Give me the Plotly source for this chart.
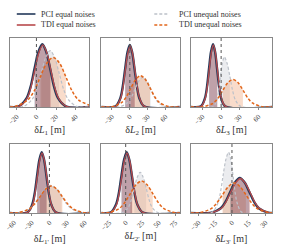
import plotly.graph_objects as go
from plotly.subplots import make_subplots

# ---------------- data ----------------
series_names = ["PCI equal noises", "TDI equal noises", "PCI unequal noises", "TDI unequal noises"]
axis_titles = ["δ<i>L</i><sub>1</sub> [m]", "δ<i>L</i><sub>2</sub> [m]", "δ<i>L</i><sub>3</sub> [m]",
               "δ<i>L</i><sub>1'</sub> [m]", "δ<i>L</i><sub>2'</sub> [m]", "δ<i>L</i><sub>3'</sub> [m]"]
x_ranges = [[-27, 54], [-48, 84], [-49, 82], [-67, 68], [-37, 82], [-37, 36]]
tick_vals = [[-20, 0, 20, 40], [-30, 0, 30, 60], [-30, 0, 30, 60],
             [-60, -30, 0, 30, 60], [-25, 0, 25, 50, 75], [-30, -15, 0, 15, 30]]

# delta L1
L1_pci_eq_x = [-18, -10, -6, -2, 2, 6, 10, 14, 18, 22, 30]
L1_pci_eq_y = [0.01, 0.14, 0.32, 0.61, 0.88, 1.0, 0.88, 0.61, 0.32, 0.14, 0.01]
L1_tdi_eq_x = [-17.5, -9.5, -5.5, -1.5, 2.5, 6.5, 10.5, 14.5, 18.5, 22.5, 30.5]
L1_tdi_eq_y = [0.01, 0.14, 0.32, 0.6, 0.87, 0.99, 0.87, 0.6, 0.32, 0.14, 0.01]
L1_pci_un_x = [-13, -4, 0.5, 5, 9.5, 14, 18.5, 23, 27.5, 32, 41]
L1_pci_un_y = [0.01, 0.13, 0.29, 0.55, 0.79, 0.9, 0.79, 0.55, 0.29, 0.13, 0.01]
L1_tdi_un_x = [-22, -9, -2.5, 4, 10.5, 17, 23.5, 30, 36.5, 43, 56]
L1_tdi_un_y = [0.01, 0.11, 0.25, 0.48, 0.7, 0.79, 0.7, 0.48, 0.25, 0.11, 0.01]

# delta L2
L2_pci_eq_x = [-24, -16, -12, -8, -4, 0, 4, 8, 12, 16, 24]
L2_pci_eq_y = [0.01, 0.14, 0.32, 0.6, 0.87, 0.99, 0.87, 0.6, 0.32, 0.14, 0.01]
L2_tdi_eq_x = [-23.5, -15.5, -11.5, -7.5, -3.5, 0.5, 4.5, 8.5, 12.5, 16.5, 24.5]
L2_tdi_eq_y = [0.01, 0.14, 0.31, 0.6, 0.86, 0.98, 0.86, 0.6, 0.31, 0.14, 0.01]
L2_pci_un_x = [-17, -4, 2.5, 9, 15.5, 22, 28.5, 35, 41.5, 48, 61]
L2_pci_un_y = [0.005, 0.067, 0.155, 0.29, 0.42, 0.48, 0.42, 0.29, 0.155, 0.067, 0.005]
L2_tdi_un_x = [-30, -14, -6, 2, 10, 18, 26, 34, 42, 50, 66]
L2_tdi_un_y = [0.005, 0.07, 0.16, 0.305, 0.44, 0.5, 0.44, 0.305, 0.16, 0.07, 0.005]

# delta L3
L3_pci_eq_x = [-32.5, -26, -22.75, -19.5, -16.25, -13, -9.75, -6.5, -3.25, 0, 6.5]
L3_pci_eq_y = [0.01, 0.14, 0.32, 0.61, 0.88, 1.0, 0.88, 0.61, 0.32, 0.14, 0.01]
L3_tdi_eq_x = [-32, -25.5, -22.25, -19, -15.75, -12.5, -9.25, -6, -2.75, 0.5, 7]
L3_tdi_eq_y = [0.01, 0.14, 0.32, 0.6, 0.87, 0.99, 0.87, 0.6, 0.32, 0.14, 0.01]
L3_pci_un_x = [-13, -7, -4, -1, 2, 5, 9.5, 14, 18.5, 23, 32]
L3_pci_un_y = [0.008, 0.11, 0.26, 0.49, 0.7, 0.8, 0.7, 0.49, 0.26, 0.11, 0.008]
L3_tdi_un_x = [-29, -13, -5, 3, 11, 19, 27, 35, 43, 51, 67]
L3_tdi_un_y = [0.004, 0.06, 0.14, 0.27, 0.39, 0.44, 0.39, 0.27, 0.14, 0.06, 0.004]

# delta L1'
L1p_pci_eq_x = [-37, -29, -25, -21, -17, -13, -9, -5, -1, 3, 11]
L1p_pci_eq_y = [0.01, 0.14, 0.31, 0.59, 0.85, 0.97, 0.85, 0.59, 0.31, 0.14, 0.01]
L1p_tdi_eq_x = [-36.5, -28.5, -24.5, -20.5, -16.5, -12.5, -8.5, -4.5, -0.5, 3.5, 11.5]
L1p_tdi_eq_y = [0.01, 0.13, 0.31, 0.58, 0.84, 0.96, 0.84, 0.58, 0.31, 0.13, 0.01]
L1p_pci_un_x = [-53.5, -35, -25.75, -16.5, -7.25, 2, 11.25, 20.5, 29.75, 39, 57.5]
L1p_pci_un_y = [0.004, 0.06, 0.14, 0.27, 0.39, 0.44, 0.39, 0.27, 0.14, 0.06, 0.004]
L1p_tdi_un_x = [-54, -35, -25.5, -16, -6.5, 3, 12.5, 22, 31.5, 41, 60]
L1p_tdi_un_y = [0.004, 0.06, 0.14, 0.26, 0.38, 0.43, 0.38, 0.26, 0.14, 0.06, 0.004]

# delta L2'
L2p_pci_eq_x = [-22.5, -14.5, -10.5, -6.5, -2.5, 1.5, 5.5, 9.5, 13.5, 17.5, 25.5]
L2p_pci_eq_y = [0.01, 0.14, 0.31, 0.59, 0.85, 0.97, 0.85, 0.59, 0.31, 0.14, 0.01]
L2p_tdi_eq_x = [-22, -14, -10, -6, -2, 2, 6, 10, 14, 18, 26]
L2p_tdi_eq_y = [0.01, 0.13, 0.31, 0.58, 0.84, 0.96, 0.84, 0.58, 0.31, 0.13, 0.01]
L2p_pci_un_x = [-5, 4, 8.5, 13, 17.5, 22, 26.5, 31, 35.5, 40, 49]
L2p_pci_un_y = [0.0065, 0.09, 0.21, 0.4, 0.57, 0.65, 0.57, 0.4, 0.21, 0.09, 0.0065]
L2p_tdi_un_x = [-27, -10, -1.5, 7, 15.5, 24, 32.5, 41, 49.5, 58, 75]
L2p_tdi_un_y = [0.005, 0.07, 0.165, 0.31, 0.45, 0.51, 0.45, 0.31, 0.165, 0.07, 0.005]

# delta L3'
L3p_pci_eq_x = [-18.5, -10, -5.75, -1.5, 2.75, 7, 11.25, 15.5, 19.75, 24, 32.5]
L3p_pci_eq_y = [0.006, 0.076, 0.18, 0.34, 0.49, 0.56, 0.49, 0.34, 0.18, 0.076, 0.006]
L3p_tdi_eq_x = [-18, -9.5, -5.25, -1, 3.25, 7.5, 11.75, 16, 20.25, 24.5, 33]
L3p_tdi_eq_y = [0.006, 0.075, 0.18, 0.34, 0.48, 0.55, 0.48, 0.34, 0.18, 0.075, 0.006]
L3p_pci_un_x = [-18, -13, -10.5, -8, -5.5, -3, -1, 1, 3, 5, 9]
L3p_pci_un_y = [0.01, 0.14, 0.31, 0.59, 0.85, 0.97, 0.85, 0.59, 0.31, 0.14, 0.01]
L3p_tdi_un_x = [-29.5, -19, -13.75, -8.5, -3.25, 2, 7.25, 12.5, 17.75, 23, 33.5]
L3p_tdi_un_y = [0.005, 0.065, 0.155, 0.29, 0.42, 0.48, 0.42, 0.29, 0.155, 0.065, 0.005]

panels = [
    [(L1_pci_eq_x, L1_pci_eq_y), (L1_tdi_eq_x, L1_tdi_eq_y), (L1_pci_un_x, L1_pci_un_y), (L1_tdi_un_x, L1_tdi_un_y)],
    [(L2_pci_eq_x, L2_pci_eq_y), (L2_tdi_eq_x, L2_tdi_eq_y), (L2_pci_un_x, L2_pci_un_y), (L2_tdi_un_x, L2_tdi_un_y)],
    [(L3_pci_eq_x, L3_pci_eq_y), (L3_tdi_eq_x, L3_tdi_eq_y), (L3_pci_un_x, L3_pci_un_y), (L3_tdi_un_x, L3_tdi_un_y)],
    [(L1p_pci_eq_x, L1p_pci_eq_y), (L1p_tdi_eq_x, L1p_tdi_eq_y), (L1p_pci_un_x, L1p_pci_un_y), (L1p_tdi_un_x, L1p_tdi_un_y)],
    [(L2p_pci_eq_x, L2p_pci_eq_y), (L2p_tdi_eq_x, L2p_tdi_eq_y), (L2p_pci_un_x, L2p_pci_un_y), (L2p_tdi_un_x, L2p_tdi_un_y)],
    [(L3p_pci_eq_x, L3p_pci_eq_y), (L3p_tdi_eq_x, L3p_tdi_eq_y), (L3p_pci_un_x, L3p_pci_un_y), (L3p_tdi_un_x, L3p_tdi_un_y)],
]

# ---------------- style ----------------
line_colors = ["#24395a", "#b84a4c", "#bcc1c9", "#e2661b"]
fill_colors = ["rgba(36,57,90,0.28)", "rgba(184,74,76,0.30)", "rgba(188,193,201,0.30)", "rgba(232,130,70,0.28)"]
line_widths = [2.4, 1.3, 1.2, 1.5]
line_dashes = ["solid", "solid", "3px,2px", "3px,2px"]
SERIF = "Liberation Serif"

W, H = 281, 252
col_px = [(5, 86), (98, 178), (189, 272)]
row_px = [(38, 107), (144, 213)]

fig = make_subplots(rows=2, cols=3)

for p, curves in enumerate(panels):
    r, c = p // 3 + 1, p % 3 + 1
    xr = x_ranges[p]
    # shaded 68% intervals (points between -1 and +1 sigma)
    for s in [2, 3, 0, 1]:
        x, y = curves[s]
        fig.add_trace(go.Scatter(x=x[3:8], y=y[3:8], mode="lines", fill="tozeroy",
                                 fillcolor=fill_colors[s], line=dict(width=0, shape="spline"),
                                 hoverinfo="skip", showlegend=False), row=r, col=c)
    # density curves
    for s in [0, 1, 2, 3]:
        x, y = curves[s]
        xx = [xr[0]] + list(x) + [xr[1]]
        yy = [0] + list(y) + [0]
        fig.add_trace(go.Scatter(x=xx, y=yy, mode="lines", name=series_names[s],
                                 line=dict(color=line_colors[s], width=line_widths[s], dash=line_dashes[s],
                                           shape="spline", smoothing=0.9),
                                 showlegend=False), row=r, col=c)

# axes
axis_updates = {}
shapes = []
for p in range(6):
    r, c = p // 3, p % 3
    sfx = "" if p == 0 else str(p + 1)
    x0, x1 = col_px[c]
    y0, y1 = row_px[r]
    axis_updates["xaxis" + sfx] = dict(
        domain=[x0 / W, x1 / W], range=x_ranges[p], tickmode="array", tickvals=tick_vals[p],
        tickangle=-45, ticks="outside", ticklen=2, tickcolor="#888",
        tickfont=dict(family=SERIF, size=7, color="#444"),
        showline=True, mirror=True, linecolor="#888", linewidth=1,
        showgrid=False, zeroline=False,
        title=dict(text=axis_titles[p], font=dict(family=SERIF, size=10, color="#333"), standoff=0))
    axis_updates["yaxis" + sfx] = dict(
        domain=[1 - y1 / H, 1 - y0 / H], range=[0, 1.1], showticklabels=False,
        ticks="", showline=True, mirror=True, linecolor="#888", linewidth=1,
        showgrid=False, zeroline=False)
    shapes.append(dict(type="line", xref="x" + sfx, yref="y" + sfx + " domain", x0=0, x1=0, y0=0, y1=1,
                       line=dict(color="#555555", width=1, dash="dot")))

# legend (drawn manually in two columns)
annotations = []
leg_rows = [14, 25]
leg_cols = [(12, 31, 35), (152, 167, 175)]
order = [(0, 0, 0), (1, 0, 1), (2, 1, 0), (3, 1, 1)]
for s, ci, ri in order:
    lx0, lx1, tx = leg_cols[ci]
    yy = 1 - leg_rows[ri] / H
    shapes.append(dict(type="line", xref="paper", yref="paper", x0=lx0 / W, x1=lx1 / W, y0=yy, y1=yy,
                       line=dict(color=line_colors[s], width=1.6 if s < 2 else 1.3, dash=line_dashes[s])))
    annotations.append(dict(x=tx / W, y=yy, xref="paper", yref="paper", text=series_names[s],
                            showarrow=False, xanchor="left", yanchor="middle",
                            font=dict(family=SERIF, size=8, color="#333")))

fig.update_layout(width=W, height=H, margin=dict(l=0, r=0, t=0, b=0),
                  paper_bgcolor="white", plot_bgcolor="white", showlegend=False,
                  font=dict(family=SERIF), shapes=shapes, annotations=annotations, **axis_updates)

fig.write_html("out.html", config={"displayModeBar": False},
               post_script="document.body.style.margin='0';document.body.style.overflow='hidden';")
